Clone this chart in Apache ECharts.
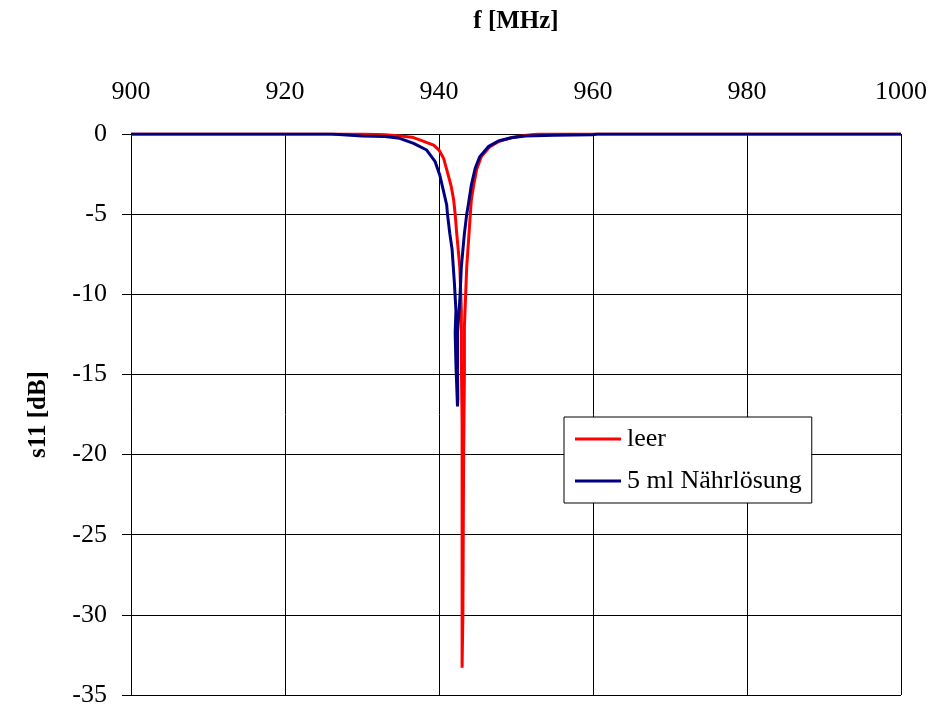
<!DOCTYPE html>
<html>
<head>
<meta charset="utf-8">
<script src="https://cdn.jsdelivr.net/npm/echarts@6/dist/echarts.min.js"></script>
<style>
  html, body { margin: 0; padding: 0; background: #fff; }
  #main { width: 950px; height: 709px; }
</style>
</head>
<body>
<div id="main"></div>
<script>
var myChart = echarts.init(document.getElementById("main"));

// values: [f in MHz, s11 in dB]
const leer = [
  [900, 0], [930, 0], [933, -0.05], [935, -0.12], [936.5, -0.2], [937.5, -0.37],
  [939.3, -0.69], [940.0, -1.0], [940.6, -1.52], [941.2, -2.56], [941.6, -3.3],
  [941.9, -4.1], [942.1, -5], [942.3, -6.2], [942.7, -8.3], [942.9, -11],
  [942.9, -14], [943.0, -18], [943.0, -25], [943.0, -30], [943.0, -33.3],
  [943.1, -30], [943.15, -25], [943.2, -20], [943.3, -15], [943.3, -12],
  [943.6, -8.3], [943.9, -6.2], [944.2, -4.1], [944.5, -3.2], [944.9, -2.2],
  [945.5, -1.4], [946.6, -0.79], [947.9, -0.44], [949.6, -0.2], [951.4, -0.08],
  [953, 0], [1000, 0]
];
const naehrloesung = [
  [900, 0], [926, 0], [926.2, -0.12], [930, -0.12], [933, -0.15], [934.9, -0.27],
  [936.7, -0.58], [938.4, -1.0], [939.5, -1.73], [940.1, -2.56], [940.6, -3.6],
  [941.0, -4.43], [941.1, -5], [941.4, -6.2], [941.7, -7.2], [942.0, -9.3],
  [942.2, -11], [942.1, -12.4], [942.2, -14.4], [942.4, -17.0], [942.45, -16.5],
  [942.4, -14.4], [942.4, -12.4], [942.7, -10.4], [942.9, -8.3], [943.3, -6.2],
  [943.6, -5], [943.8, -4.43], [944.2, -3.18], [944.7, -2.14], [945.3, -1.41],
  [946.4, -0.79], [947.7, -0.44], [949.4, -0.23], [951.2, -0.12], [955, -0.08],
  [960, -0.05], [960.5, 0], [1000, 0]
];
const seriesNames = ["leer", "5 ml Nährlösung"];

const font = "Liberation Serif";

const option = {
  animation: false,
  textStyle: { fontFamily: font, color: "#000" },
  grid: { left: 131, right: 49, top: 134, bottom: 14 },
  legend: {
    orient: "vertical",
    left: 564,
    top: 417,
    padding: [9, 10, 9, 11],
    itemGap: 16,
    itemWidth: 46,
    itemHeight: 3,
    icon: "rect",
    backgroundColor: "#fff",
    borderColor: "#000",
    borderWidth: 1,
    borderRadius: 0,
    textStyle: { fontFamily: font, fontSize: 26, color: "#000", padding: [0, 0, 0, 1] },
    data: seriesNames
  },
  xAxis: {
    type: "value",
    position: "top",
    min: 900,
    max: 1000,
    interval: 20,
    name: "f [MHz]",
    nameLocation: "middle",
    nameGap: 100,
    nameTextStyle: { fontFamily: font, fontSize: 25, fontWeight: "bold", color: "#000" },
    axisLine: { onZero: false, lineStyle: { color: "#000", width: 1 } },
    axisTick: { show: false },
    axisLabel: {
      fontFamily: font, fontSize: 26, color: "#000", margin: 29,
      formatter: function (v) { return String(v); }
    },
    splitLine: { show: true, lineStyle: { color: "#000", width: 1 } }
  },
  yAxis: {
    type: "value",
    min: -35,
    max: 0,
    interval: 5,
    name: "s11 [dB]",
    nameLocation: "middle",
    nameGap: 80,
    nameTextStyle: { fontFamily: font, fontSize: 25, fontWeight: "bold", color: "#000" },
    axisLine: { show: true, lineStyle: { color: "#000", width: 1 } },
    axisTick: { show: true, length: 9, lineStyle: { color: "#000" } },
    axisLabel: { fontFamily: font, fontSize: 26, color: "#000", margin: 24 },
    splitLine: { show: true, lineStyle: { color: "#000", width: 1 } }
  },
  series: [
    {
      name: seriesNames[0],
      type: "line",
      data: leer,
      showSymbol: false,
      color: "#ff0000",
      lineStyle: { color: "#ff0000", width: 3 }
    },
    {
      name: seriesNames[1],
      type: "line",
      data: naehrloesung,
      showSymbol: false,
      color: "#000080",
      lineStyle: { color: "#000080", width: 3 }
    }
  ]
};

myChart.setOption(option);
</script>
</body>
</html>
